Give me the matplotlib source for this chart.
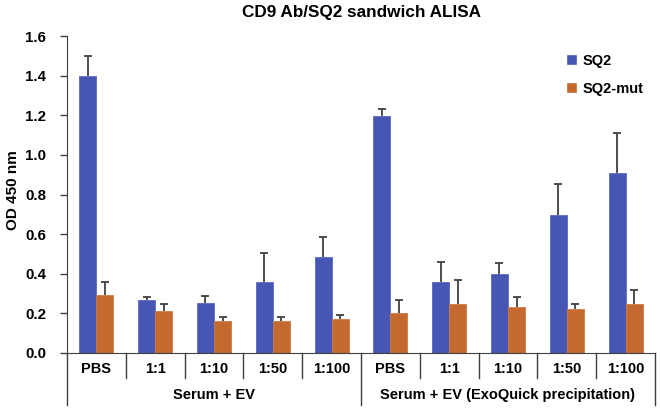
import numpy as np
import matplotlib
matplotlib.use("Agg")
import matplotlib.pyplot as plt
from matplotlib.lines import Line2D

plt.rcParams['font.family'] = ['Liberation Sans', 'DejaVu Sans']
plt.rcParams['font.weight'] = 'bold'

categories = ["PBS", "1:1", "1:10", "1:50", "1:100", "PBS", "1:1", "1:10", "1:50", "1:100"]
groups = ["Serum + EV", "Serum + EV (ExoQuick precipitation)"]
sq2 = [1.40, 0.267, 0.253, 0.358, 0.483, 1.197, 0.36, 0.40, 0.697, 0.908]
sq2_err = [0.10, 0.017, 0.036, 0.148, 0.10, 0.037, 0.10, 0.052, 0.157, 0.20]
mut = [0.293, 0.21, 0.16, 0.163, 0.17, 0.20, 0.245, 0.232, 0.222, 0.245]
mut_err = [0.065, 0.037, 0.021, 0.020, 0.020, 0.068, 0.121, 0.053, 0.023, 0.071]
yticks = [0.0, 0.2, 0.4, 0.6, 0.8, 1.0, 1.2, 1.4, 1.6]

blue = "#4656B2"
orange = "#C4692F"
errc = "#404040"

fig = plt.figure(figsize=(6.6, 4.11), dpi=100)
ax_w_px = 655 - 67
ax_h_px = 353 - 36
ax = fig.add_axes([67/660, 1-353/411, ax_w_px/660, ax_h_px/411])

x = np.arange(len(categories))
w = 0.29
ax.bar(x - w/2, sq2, w, color=blue, edgecolor="#5a6ac4", linewidth=0.6, label="SQ2", zorder=2)
ax.bar(x + w/2, mut, w, color=orange, edgecolor="#d07a45", linewidth=0.6, label="SQ2-mut", zorder=2)
for xs, vals, errs in [(x - w/2, sq2, sq2_err), (x + w/2, mut, mut_err)]:
    cont = ax.errorbar(xs, vals, yerr=[np.zeros(len(vals)), errs], fmt='none', ecolor=errc,
                       elinewidth=1.3, capsize=2.6, capthick=1.3, zorder=3)
    caps = cont[1]
    if len(caps) == 2:
        caps[0].set_visible(False)

ax.set_xlim(-0.5, len(categories) - 0.5)
ax.set_ylim(0, 1.6)
ax.set_yticks(yticks)
ax.set_yticklabels([f"{t:.1f}" for t in yticks], fontsize=10.8, fontweight='bold')
ax.tick_params(axis='y', length=5, width=1, color='#404040', pad=10)
ax.set_xticks([])
for s in ['top', 'right']:
    ax.spines[s].set_visible(False)
ax.spines['left'].set_color('#404040')
ax.spines['bottom'].set_color('#404040')
ax.set_ylabel("OD 450 nm", fontsize=11, fontweight='bold', va='center')
ax.yaxis.set_label_coords((13 - 67) / ax_w_px, (353 - 190) / ax_h_px)

# category labels and separators
trans = ax.get_xaxis_transform()
def dy(px):
    return -px / ax_h_px
for i, c in enumerate(categories):
    ax.text(i, dy(16), c, transform=trans, ha='center', va='center', fontsize=10.5, fontweight='bold')
for b in range(1, len(categories)):
    yend = dy(52) if b == 5 else dy(25)
    ax.add_line(Line2D([b - 0.5, b - 0.5], [0, yend], transform=trans, color='#404040', lw=1, clip_on=False))
for b in [-0.5, len(categories) - 0.5]:
    ax.add_line(Line2D([b, b], [0, dy(52)], transform=trans, color='#404040', lw=1, clip_on=False))
ax.text(2, dy(42), groups[0], transform=trans, ha='center', va='center', fontsize=10.5, fontweight='bold')
ax.text(7, dy(42), groups[1], transform=trans, ha='center', va='center', fontsize=10.5, fontweight='bold')

fig.text(361/660, 1-13/411, "CD9 Ab/SQ2 sandwich ALISA", ha='center', va='center', fontsize=12.3, fontweight='bold')

leg = ax.legend(loc='upper left', bbox_to_anchor=(561/660, 1-48/411), bbox_transform=fig.transFigure,
                frameon=False, fontsize=10.5, handlelength=0.6, handleheight=0.6, handletextpad=0.5,
                labelspacing=0.95, borderaxespad=0)

fig.savefig("out.png", dpi=100)
